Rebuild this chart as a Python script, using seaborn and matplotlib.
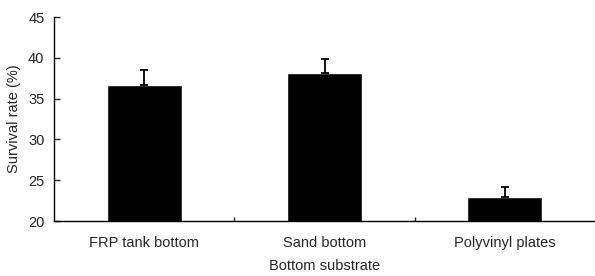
import pandas as pd
import numpy as np
import seaborn as sns
import matplotlib.pyplot as plt

# ------------------- Data -------------------
substrates = ['FRP tank bottom', 'Sand bottom', 'Polyvinyl plates']
survival = [36.7, 38.2, 23.0]
sd_upper = [1.8, 1.7, 1.2]

df = pd.DataFrame({'Bottom substrate': substrates, 'Survival rate (%)': survival})

# ------------------- Plot -------------------
sns.set_style('white')
plt.rcParams['font.family'] = ['Liberation Sans', 'DejaVu Sans']

fig = plt.figure(figsize=(5.95, 2.76), dpi=100)
ax = fig.add_axes([0.091, 0.199, 0.909, 0.739])

sns.barplot(data=df, x='Bottom substrate', y='Survival rate (%)', color='black',
            width=0.415, saturation=1, ax=ax)
ax.errorbar(np.arange(len(substrates)), survival,
            yerr=[np.zeros(len(survival)), sd_upper],
            fmt='none', ecolor='black', elinewidth=1.3, capsize=3, capthick=1.3)

ax.set_ylim(20, 45)
ax.set_xlim(-0.5, 2.5)
ax.set_yticks(range(20, 46, 5))
ax.set_xticks([0.5, 1.5], minor=True)

for s in ['top', 'right']:
    ax.spines[s].set_visible(False)
for s in ['left', 'bottom']:
    ax.spines[s].set_color('black')
    ax.spines[s].set_linewidth(1.0)

ax.tick_params(axis='y', direction='in', length=4, width=1, labelsize=10.5, pad=7, left=True)
ax.tick_params(axis='x', which='major', length=0, labelsize=10.5, pad=11)
ax.tick_params(axis='x', which='minor', direction='in', length=3, width=1, bottom=True)

ax.set_xlabel('Bottom substrate', fontsize=10.5, labelpad=6)
ax.set_ylabel('Survival rate (%)', fontsize=10.5, labelpad=5)

plt.savefig('out.png', dpi=100)
